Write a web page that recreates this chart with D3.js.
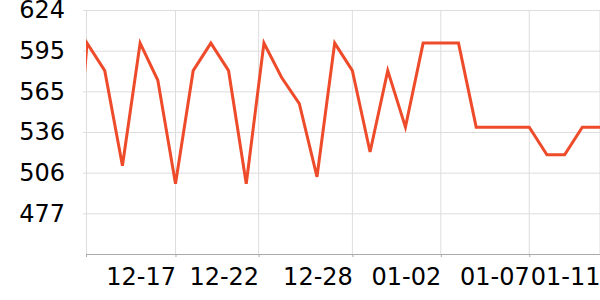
<!DOCTYPE html>
<html>
<head>
<meta charset="utf-8">
<script src="https://cdn.jsdelivr.net/npm/d3@7"></script>
<style>
  body { margin: 0; background: #fff; }
  svg { display: block; font-family: "DejaVu Sans", sans-serif; }
</style>
</head>
<body>
<svg id="chart"></svg>
<script>
"use strict";

var Width = 600,
    Height = 300,
    margin = { top: 10, right: 0, bottom: 48, left: 86 };

// one value per day, the first one sits just left of the visible window
var prices = [447,
    600, 580, 511, 600, 573, 498, 580, 600, 580, 498,
    600, 575, 556, 503, 600, 580, 521, 580, 539, 600,
    600, 600, 539, 539, 539, 539, 519, 519, 539, 539];
var pointIndex = prices.map(function (d, i) { return i - 1; });

// where the date labels sit, in point index units
var tickIndex = [5, 9.7, 15, 20, 25, 29];
var tickLabels = ["12-17", "12-22", "12-28", "01-02", "01-07", "01-11"];

var yDomain = [447, 624];
var yTicks = [476.5, 506, 535.5, 565, 594.5, 624];

var innerW = Width - margin.left - margin.right,
    innerH = Height - margin.top - margin.bottom;

var x = d3.scaleLinear().domain([-0.06, 29]).range([0, innerW]);
var y = d3.scaleLinear().domain(yDomain).range([innerH + 2, 0]);

var svg = d3.select("#chart")
    .attr("width", Width)
    .attr("height", Height);

svg.append("defs").append("clipPath")
    .attr("id", "plotClip")
    .append("rect")
    .attr("x", 0).attr("y", -4)
    .attr("width", innerW).attr("height", innerH + 6);

var g = svg.append("g")
    .attr("transform", "translate(" + margin.left + "," + margin.top + ")");

// horizontal grid + y labels
var yAxis = g.append("g")
    .call(d3.axisLeft(y)
        .tickValues(yTicks)
        .tickSizeInner(-innerW)
        .tickSizeOuter(0)
        .tickPadding(21)
        .tickFormat(function (d) { return Math.round(d); }));
yAxis.select(".domain").attr("stroke", "#ddd");
yAxis.selectAll(".tick line").attr("stroke", "#ddd").attr("x1", -3);
yAxis.selectAll(".tick text")
    .attr("font-size", 24)
    .attr("fill", "#000")
    .attr("font-family", "DejaVu Sans, sans-serif");

// vertical grid
g.append("g").selectAll("line")
    .data(tickIndex)
    .enter()
    .append("line")
    .attr("x1", function (d) { return x(d); })
    .attr("x2", function (d) { return x(d); })
    .attr("y1", y(yDomain[1]))
    .attr("y2", y(yDomain[0]))
    .attr("stroke", "#ddd");

// bottom axis
var xAxis = g.append("g")
    .attr("transform", "translate(0," + y(yDomain[0]) + ")")
    .call(d3.axisBottom(x)
        .tickValues([x.domain()[0]].concat(tickIndex))
        .tickSizeInner(3)
        .tickSizeOuter(0)
        .tickPadding(11)
        .tickFormat(function (d, i) { return i === 0 ? "" : tickLabels[i - 1]; }));
xAxis.select(".domain").attr("stroke", "#aaa");
xAxis.selectAll(".tick line").attr("stroke", "#aaa");
xAxis.selectAll(".tick text")
    .attr("font-size", 24)
    .attr("fill", "#000")
    .attr("text-anchor", "end")
    .attr("font-family", "DejaVu Sans, sans-serif");

// price line
var line = d3.line()
    .x(function (d, i) { return x(pointIndex[i]); })
    .y(function (d) { return y(d); });

g.append("path")
    .datum(prices)
    .attr("clip-path", "url(#plotClip)")
    .attr("d", line)
    .attr("fill", "none")
    .attr("stroke", "#ee4b2b")
    .attr("stroke-width", 3)
    .attr("stroke-linejoin", "miter");
</script>
</body>
</html>
